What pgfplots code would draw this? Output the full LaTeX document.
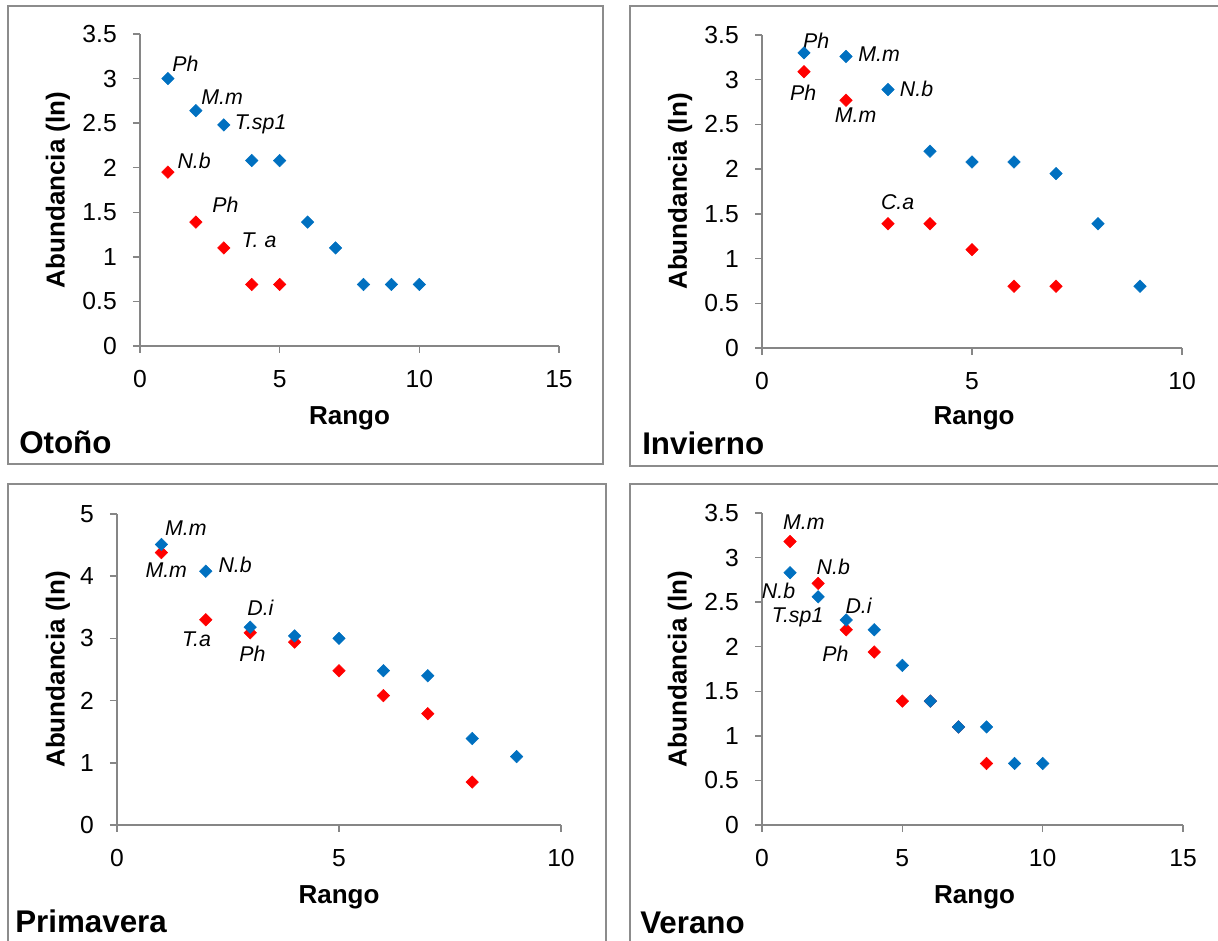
\documentclass[border=0pt]{standalone}
\usepackage{fontspec}
\setmainfont{Liberation Sans}
\usepackage{pgfplots}
\pgfplotsset{compat=1.18}
\definecolor{xblue}{HTML}{0070C0}
\definecolor{xred}{HTML}{FF0000}
\definecolor{axgray}{HTML}{868686}
\definecolor{frgray}{HTML}{8C8C8C}
\pgfplotsset{
  panel/.style={
    scale only axis, axis lines=left,
    axis line style={-, draw=axgray, line width=1.1pt},
    tick align=outside, major tick length=5.25pt,
    tick style={draw=axgray, line width=1.1pt},
    xmin=0, ymin=0, clip=false,
    /pgf/number format/assume math mode=true,
    tick label style={font=\fontsize{18.5}{20}\selectfont, inner sep=0pt},
    xticklabel style={yshift=-12.75pt},
    yticklabel style={xshift=-12pt},
    label style={font=\bfseries\fontsize{19.5}{22}\selectfont, inner sep=0pt},
    xlabel={Rango}, ylabel={Abundancia (ln)},
    anchor=south west,
  },
  bl/.style={only marks, mark=square*, mark size=3.3pt, mark options={rotate=45, draw=xblue, fill=xblue}},
  rd/.style={only marks, mark=square*, mark size=3.3pt, mark options={rotate=45, draw=xred, fill=xred}},
}
\tikzset{lbl/.style={font=\itshape\fontsize{16}{18}\selectfont, inner sep=0pt, anchor=center},
  pname/.style={font=\bfseries\fontsize{23.5}{26}\selectfont, inner sep=0pt, anchor=base west}}
\begin{document}
\begin{tikzpicture}
\useasboundingbox (0pt,0pt) rectangle (913.5pt,705.75pt);
% frames
\draw[frgray, line width=1.1pt] (6pt,357.75pt) rectangle (452.25pt,701.25pt);
\draw[frgray, line width=1.1pt] (472.5pt,356.25pt) rectangle (916pt,701.25pt);
\draw[frgray, line width=1.1pt] (6pt,-4pt) rectangle (454.5pt,342.75pt);
\draw[frgray, line width=1.1pt] (472.5pt,-4pt) rectangle (917pt,342.75pt);

% Otono
\begin{axis}[panel, at={(105pt,446.25pt)}, width=314.25pt, height=234pt,
  xmax=15, ymax=3.5, xtick={0,5,10,15}, ytick={0,0.5,...,3.5},
  xlabel style={at={(axis description cs:0.5,-0.231)}, anchor=center},
  ylabel style={at={(axis description cs:-0.196,0.5)}, anchor=center}]
\addplot[rd] coordinates {(1,1.95) (2,1.39) (3,1.10) (4,0.69) (5,0.69)};
\addplot[bl] coordinates {(1,3.0) (2,2.64) (3,2.48) (4,2.08) (5,2.08) (6,1.39) (7,1.10) (8,0.69) (9,0.69) (10,0.69)};
\node[lbl] at (axis cs:1.63,3.17) {Ph};
\node[lbl] at (axis cs:2.94,2.79) {M.m};
\node[lbl] at (axis cs:4.32,2.49) {T.sp1};
\node[lbl] at (axis cs:1.94,2.08) {N.b};
\node[lbl] at (axis cs:3.06,1.58) {Ph};
\node[lbl] at (axis cs:4.26,1.19) {T. a};
\end{axis}
\node[pname] at (14.25pt,365.25pt) {Otoño};

% Invierno
\begin{axis}[panel, at={(571.5pt,444.75pt)}, width=315pt, height=234.75pt,
  xmax=10, ymax=3.5, xtick={0,5,10}, ytick={0,0.5,...,3.5},
  xlabel style={at={(axis description cs:0.505,-0.224)}, anchor=center},
  ylabel style={at={(axis description cs:-0.195,0.5)}, anchor=center}]
\addplot[rd] coordinates {(1,3.09) (2,2.77) (3,1.39) (4,1.39) (5,1.10) (6,0.69) (7,0.69)};
\addplot[bl] coordinates {(1,3.30) (2,3.26) (3,2.89) (4,2.20) (5,2.08) (6,2.08) (7,1.95) (8,1.39) (9,0.69)};
\node[lbl] at (axis cs:1.29,3.44) {Ph};
\node[lbl] at (axis cs:2.79,3.29) {M.m};
\node[lbl] at (axis cs:3.68,2.90) {N.b};
\node[lbl] at (axis cs:0.98,2.85) {Ph};
\node[lbl] at (axis cs:2.23,2.60) {M.m};
\node[lbl] at (axis cs:3.23,1.63) {C.a};
\end{axis}
\node[pname] at (481.5pt,364.5pt) {Invierno};

% Primavera
\begin{axis}[panel, at={(87.75pt,87pt)}, width=333pt, height=233.25pt,
  xmax=10, ymax=5, xtick={0,5,10}, ytick={0,1,...,5},
  xlabel style={at={(axis description cs:0.5,-0.232)}, anchor=center},
  ylabel style={at={(axis description cs:-0.133,0.5)}, anchor=center}]
\addplot[rd] coordinates {(1,4.38) (2,3.30) (3,3.09) (4,2.94) (5,2.48) (6,2.08) (7,1.79) (8,0.69)};
\addplot[bl] coordinates {(1,4.51) (2,4.08) (3,3.18) (4,3.04) (5,3.0) (6,2.48) (7,2.40) (8,1.39) (9,1.10)};
\node[lbl] at (axis cs:1.55,4.77) {M.m};
\node[lbl] at (axis cs:1.11,4.10) {M.m};
\node[lbl] at (axis cs:2.66,4.18) {N.b};
\node[lbl] at (axis cs:3.23,3.49) {D.i};
\node[lbl] at (axis cs:1.79,2.99) {T.a};
\node[lbl] at (axis cs:3.05,2.76) {Ph};
\end{axis}
\node[pname] at (11.25pt,6pt) {Primavera};

% Verano
\begin{axis}[panel, at={(571.5pt,87pt)}, width=315.75pt, height=234pt,
  xmax=15, ymax=3.5, xtick={0,5,10,15}, ytick={0,0.5,...,3.5},
  xlabel style={at={(axis description cs:0.505,-0.231)}, anchor=center},
  ylabel style={at={(axis description cs:-0.195,0.5)}, anchor=center}]
\addplot[rd] coordinates {(1,3.18) (2,2.71) (3,2.19) (4,1.94) (5,1.39) (6,1.39) (7,1.10) (8,0.69)};
\addplot[bl] coordinates {(1,2.83) (2,2.56) (3,2.30) (4,2.19) (5,1.79) (6,1.39) (7,1.10) (8,1.10) (9,0.69) (10,0.69)};
\node[lbl] at (axis cs:1.49,3.40) {M.m};
\node[lbl] at (axis cs:2.54,2.89) {N.b};
\node[lbl] at (axis cs:0.59,2.63) {N.b};
\node[lbl] at (axis cs:1.27,2.33) {T.sp1};
\node[lbl] at (axis cs:3.44,2.46) {D.i};
\node[lbl] at (axis cs:2.62,1.92) {Ph};
\end{axis}
\node[pname] at (480pt,5.25pt) {Verano};
\end{tikzpicture}
\end{document}
